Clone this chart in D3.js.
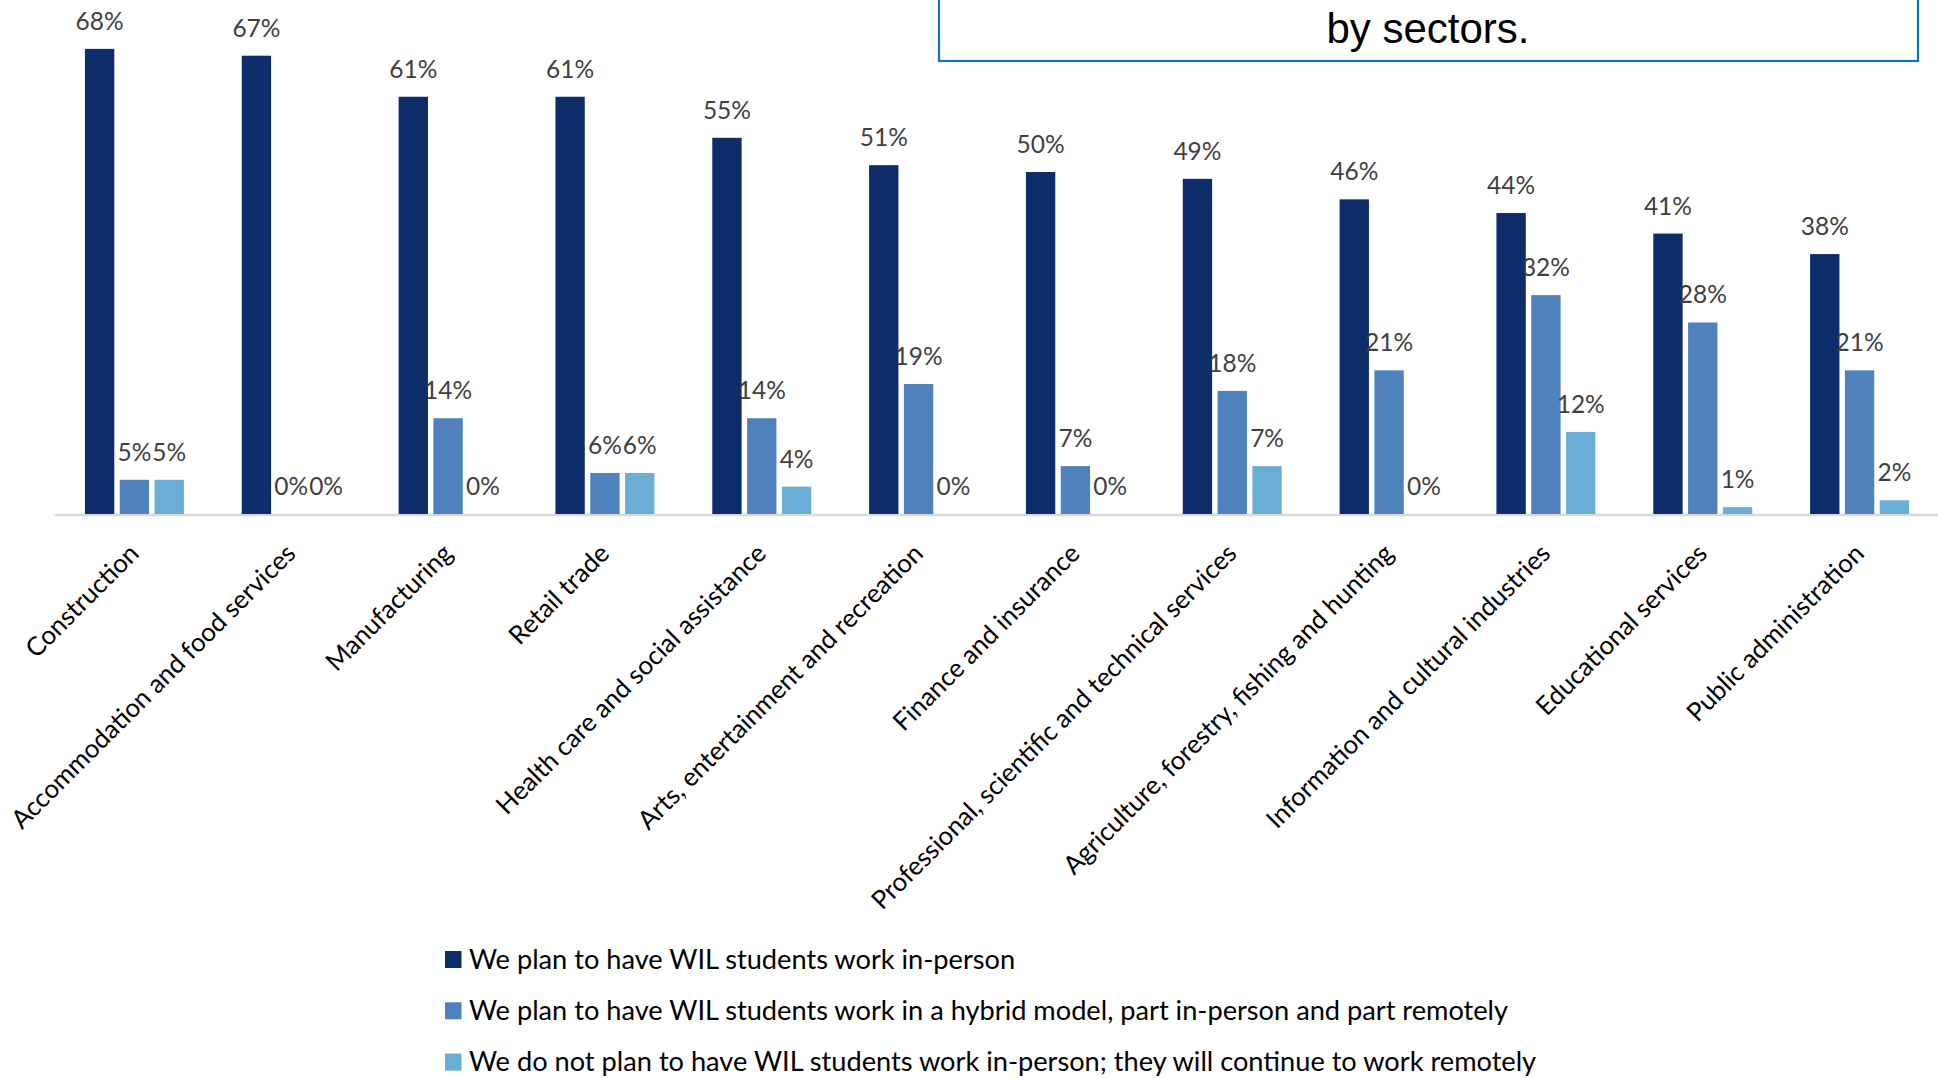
<!DOCTYPE html>
<html>
<head>
<meta charset="utf-8">
<script src="https://cdn.jsdelivr.net/npm/d3@7"></script>
<style>
  html, body { margin: 0; padding: 0; background: #fff; }
  svg { display: block; }
</style>
</head>
<body>
<svg id="chart" width="1938" height="1078"></svg>
<script>
const categories = [
  "Construction",
  "Accommodation and food services",
  "Manufacturing",
  "Retail trade",
  "Health care and social assistance",
  "Arts, entertainment and recreation",
  "Finance and insurance",
  "Professional, scientific and technical services",
  "Agriculture, forestry, fishing and hunting",
  "Information and cultural industries",
  "Educational services",
  "Public administration"
];
const seriesNames = [
  "We plan to have WIL students work in-person",
  "We plan to have WIL students work in a hybrid model, part in-person and part remotely",
  "We do not plan to have WIL students work in-person; they will continue to work remotely"
];
const inPerson = [68, 67, 61, 61, 55, 51, 50, 49, 46, 44, 41, 38];
const hybrid   = [5, 0, 14, 6, 14, 19, 7, 18, 21, 32, 28, 21];
const remote   = [5, 0, 0, 6, 4, 0, 0, 7, 0, 12, 1, 2];
const titleLine = "by sectors.";

const colors = ["#0c2d69", "#4f81bd", "#6aaed6"];
const seriesValues = [inPerson, hybrid, remote];

const svg = d3.select("#chart");
const FONT = "Lato, 'Open Sans', sans-serif";

const baseY = 514;
const x0 = d3.scaleBand().domain(categories).range([56, 1938]).paddingInner(0.369).paddingOuter(0.1845);
const x1 = d3.scaleBand().domain([0, 1, 2]).range([0, x0.bandwidth()]).paddingInner(0.157);
const y = d3.scaleLinear().domain([0, 100]).range([baseY, baseY - 684]);

// axis line
svg.append("line")
  .attr("x1", 55).attr("x2", 1938)
  .attr("y1", baseY + 1).attr("y2", baseY + 1)
  .attr("stroke", "#d9d9d9").attr("stroke-width", 2.5);

const data = [];
categories.forEach((c, i) => {
  seriesValues.forEach((vals, s) => data.push({ cat: c, s, v: vals[i] }));
});

const g = svg.append("g");
g.selectAll("rect").data(data).join("rect")
  .attr("x", d => x0(d.cat) + x1(d.s))
  .attr("width", x1.bandwidth())
  .attr("y", d => y(d.v))
  .attr("height", d => baseY - y(d.v))
  .attr("fill", d => colors[d.s]);

g.selectAll("text.val").data(data).join("text")
  .attr("class", "val")
  .attr("x", d => x0(d.cat) + x1(d.s) + x1.bandwidth() / 2)
  .attr("y", d => y(d.v) - 19)
  .attr("text-anchor", "middle")
  .attr("font-family", FONT)
  .attr("font-size", 24.5)
  .attr("fill", "#404040")
  .text(d => d.v + "%");

// category labels
svg.selectAll("text.cat").data(categories).join("text")
  .attr("class", "cat")
  .attr("transform", d => `translate(${x0(d) + x0.bandwidth() / 2 + 6},${baseY + 41}) rotate(-45)`)
  .attr("text-anchor", "end")
  .attr("font-family", FONT)
  .attr("font-size", 25.8)
  .attr("fill", "#000")
  .text(d => d);

// title box
svg.append("rect")
  .attr("x", 939).attr("y", -60)
  .attr("width", 979).attr("height", 121)
  .attr("fill", "#fff")
  .attr("stroke", "#0f6fc6").attr("stroke-width", 2.2);
svg.append("text")
  .attr("x", 1428).attr("y", 43)
  .attr("text-anchor", "middle")
  .attr("font-family", "'Liberation Sans', Arial, sans-serif")
  .attr("font-size", 42)
  .attr("fill", "#000")
  .text(titleLine);

// legend
const leg = svg.append("g");
seriesNames.forEach((name, i) => {
  const yy = 951 + i * 51.3;
  leg.append("rect").attr("x", 445).attr("y", yy).attr("width", 16.5).attr("height", 17).attr("fill", colors[i]);
  leg.append("text")
    .attr("x", 469).attr("y", yy + 17.5)
    .attr("font-family", FONT)
    .attr("font-size", 27.2)
    .attr("fill", "#000")
    .text(name);
});
</script>
</body>
</html>
